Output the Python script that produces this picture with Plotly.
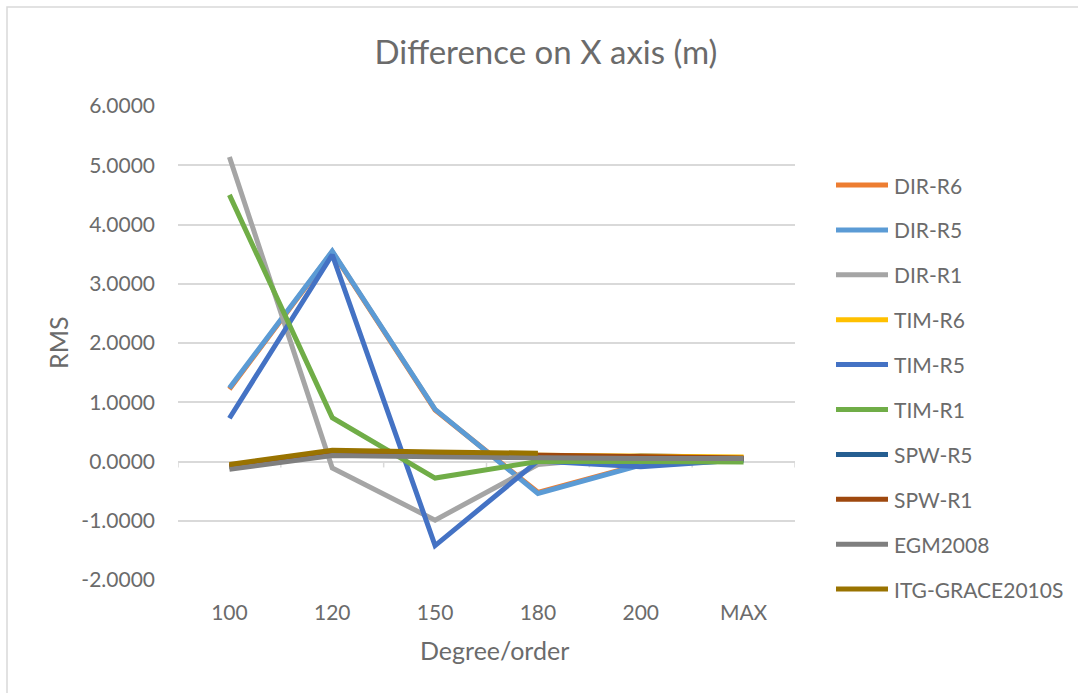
import plotly.graph_objects as go

# Degree/order categories
degrees = ["100", "120", "150", "180", "200", "MAX"]

# RMS of the X-axis difference (m) for each solution
dir_r6 = [1.22, 3.54, 0.87, -0.52, -0.05, 0.03]
dir_r5 = [1.24, 3.55, 0.88, -0.54, -0.06, 0.02]
dir_r1 = [5.14, -0.11, -0.99, -0.05, 0.10, 0.06]
tim_r6 = [-0.08, 0.14, 0.12, 0.10, 0.08, 0.075]
tim_r5 = [0.73, 3.49, -1.42, 0.01, -0.09, 0.03]
tim_r1 = [4.50, 0.74, -0.28, 0.00, 0.00, -0.01]
spw_r5 = [-0.09, 0.12, 0.10, 0.08, 0.07, 0.05]
spw_r1 = [-0.07, 0.15, 0.13, 0.11, 0.09, 0.06]
egm2008 = [-0.13, 0.10, 0.08, 0.06, 0.05, 0.05]
itg_grace2010s = [-0.05, 0.19, 0.16, 0.14, None, None]

series_names = ["DIR-R6", "DIR-R5", "DIR-R1", "TIM-R6", "TIM-R5", "TIM-R1",
                "SPW-R5", "SPW-R1", "EGM2008", "ITG-GRACE2010S"]
series_values = [dir_r6, dir_r5, dir_r1, tim_r6, tim_r5, tim_r1,
                 spw_r5, spw_r1, egm2008, itg_grace2010s]
series_colors = ["#ED7D31", "#5B9BD5", "#A5A5A5", "#FFC000", "#4472C4",
                 "#70AD47", "#255E91", "#9E480E", "#7F7F7F", "#997300"]

y_ticks = [-2, -1, 0, 1, 2, 3, 4, 5, 6]
y_tick_text = [f"{v:.4f}" for v in y_ticks]  # plain hyphen for negatives

FONT = "Lato"
TEXT = "#6B6B6B"
GRID = "#D9D9D9"

# plot area in pixels
W, H = 1078, 693
L, R, T, B = 178, 795, 106, 580
pw, ph = R - L, B - T


def px_x(x):
    return (x - L) / pw


def px_y(y):
    return (B - y) / ph


fig = go.Figure()
for name, vals, col in zip(series_names, series_values, series_colors):
    fig.add_trace(go.Scatter(
        x=degrees, y=vals, name=name, mode="lines",
        line=dict(color=col, width=5), showlegend=False,
    ))

shapes = []
# chart border
shapes.append(dict(type="rect", xref="paper", yref="paper",
                   x0=px_x(7), x1=px_x(1090), y0=px_y(705), y1=px_y(7),
                   line=dict(color=GRID, width=1.5), fillcolor="rgba(0,0,0,0)",
                   layer="below"))
# category tick marks on the zero line
for i in range(len(degrees) + 1):
    shapes.append(dict(type="line", xref="x", yref="y",
                       x0=i - 0.5, x1=i - 0.5, y0=0, y1=-0.1,
                       line=dict(color=GRID, width=1.5), layer="below"))

annotations = []
# legend drawn beside the plot
for i, (name, col) in enumerate(zip(series_names, series_colors)):
    yy = px_y(185 + 44.9 * i)
    shapes.append(dict(type="line", xref="paper", yref="paper",
                       x0=px_x(836), x1=px_x(888), y0=yy, y1=yy,
                       line=dict(color=col, width=5)))
    annotations.append(dict(xref="paper", yref="paper", x=px_x(892), y=yy,
                            text=name, showarrow=False, xanchor="left",
                            yanchor="middle",
                            font=dict(family=FONT, size=21, color=TEXT)))

# axis titles
annotations.append(dict(xref="paper", yref="paper", x=px_x(494), y=px_y(650),
                        text="Degree/order", showarrow=False,
                        xanchor="center", yanchor="middle",
                        font=dict(family=FONT, size=25, color=TEXT)))
annotations.append(dict(xref="paper", yref="paper", x=px_x(58), y=px_y(343),
                        text="RMS", showarrow=False, textangle=-90,
                        xanchor="center", yanchor="middle",
                        font=dict(family=FONT, size=25, color=TEXT)))

fig.update_layout(
    width=W, height=H,
    margin=dict(l=L, r=W - R, t=T, b=H - B, pad=0),
    paper_bgcolor="white", plot_bgcolor="white",
    font=dict(family=FONT, color=TEXT, size=21),
    title=dict(text="Difference on X axis (m)", x=546 / W,
               xanchor="center", y=1 - 52 / H, yanchor="middle",
               font=dict(family=FONT, size=33, color=TEXT)),
    showlegend=False,
    shapes=shapes,
    annotations=annotations,
    xaxis=dict(
        type="category", categoryorder="array", categoryarray=degrees,
        range=[-0.5, len(degrees) - 0.5],
        showgrid=False, zeroline=False, showline=False, ticks="",
        ticklabelstandoff=18,
        tickfont=dict(family=FONT, size=21, color=TEXT),
    ),
    yaxis=dict(
        range=[-2, 6], tickmode="array", tickvals=y_ticks,
        ticktext=y_tick_text,
        showgrid=True, gridcolor=GRID, gridwidth=1.5,
        zeroline=False, showline=False, ticks="",
        ticklabelstandoff=22,
        tickfont=dict(family=FONT, size=21, color=TEXT),
    ),
)

fig.write_html("out.html")
